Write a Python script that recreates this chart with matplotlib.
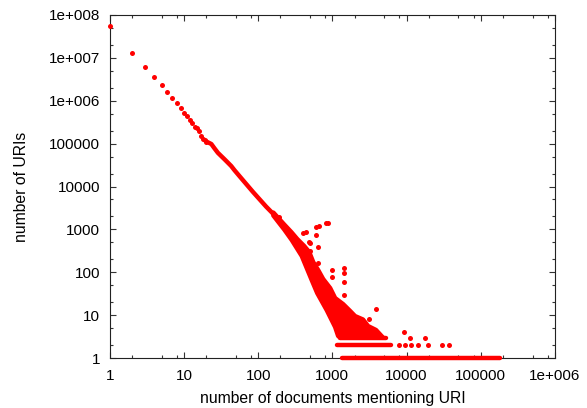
import matplotlib
matplotlib.use('Agg')
import matplotlib.pyplot as plt
import matplotlib.ticker as mticker

RED = '#ff0000'

# --- isolated low-x points (x = number of documents, y = number of URIs)
disc_x = [1, 2, 3, 4, 5, 6, 7, 8, 9, 10, 11, 12, 13, 14, 15, 16, 17, 18, 19, 20]
disc_y = [5.5e7, 1.3e7, 6.0e6, 3.5e6, 2.3e6, 1.6e6, 1.17e6, 8.7e5, 6.6e5, 5.3e5,
          4.4e5, 3.6e5, 3.0e5, 2.45e5, 2.35e5, 2.0e5, 1.5e5, 1.3e5, 1.2e5, 1.12e5]

# --- dense head of the distribution (traced centre of the point band)
line_x = [20, 23.4, 25.9, 28.7, 31.9, 35.3, 39.1, 43.4, 48, 56, 85, 128, 160.5]
line_y = [1.12e5, 9.8e4, 7.7e4, 6.1e4, 5.1e4, 4.3e4, 3.6e4, 3.0e4, 2.4e4, 1.75e4,
          7500, 3400, 2280]

# --- envelope of the densely scattered tail
cloud_x = [160.5, 225, 280, 337, 418, 488, 552, 645, 752, 934, 1090, 1396, 1734,
           2023, 2589, 3024, 3873, 4808, 1272, 1197, 1090, 839, 625, 527, 387,
           284, 225, 160.5]
cloud_y = [2464, 1294, 865, 594, 408, 296, 173, 112, 69.4, 42.8, 25, 18.1, 12.5,
           9.5, 7.9, 5.57, 4.5, 3.0, 3.0, 3.26, 5.28, 13.1, 32.7, 65.8, 239,
           563, 989, 2098]

# --- isolated outliers
out_x = [193, 397, 441, 488, 503, 606, 665, 833, 887, 600, 631, 631, 499,
         1440, 1440, 1440, 1440, 1000, 1000, 3840, 3100, 9200,
         11100, 17600, 7900, 9500, 11300, 14300, 19500, 30000, 37000]
out_y = [1900, 833, 880, 514, 470, 1132, 1227, 1425, 1425, 736, 393, 167, 317,
         125, 94, 60, 30, 112, 79, 14, 8, 4,
         3, 3, 2, 2, 2, 2, 2, 2, 2]

# --- continuous runs of points at small counts
run_y = [1, 2, 3]
run_x0 = [1340, 1170, 1270]
run_x1 = [183000, 6100, 5300]

x_ticks = [1, 10, 100, 1000, 10000, 100000, 1000000]
x_labels = ['1', '10', '100', '1000', '10000', '100000', '1e+006']
y_ticks = [1, 10, 100, 1000, 10000, 100000, 1000000, 10000000, 100000000]
y_labels = ['1', '10', '100', '1000', '10000', '100000', '1e+006', '1e+007', '1e+008']

plt.rcParams['font.family'] = ['Liberation Sans', 'DejaVu Sans']
FS_TICK = 11
FS_LAB = 11.3
MS = 3.6  # marker diameter in points
LW = 3.2  # width of traced dense band

fig = plt.figure(figsize=(5.87, 4.08), dpi=100)
ax = fig.add_axes([109.7 / 587, 1 - 358 / 408, (555 - 109.7) / 587, (358 - 15) / 408])
ax.set_xscale('log')
ax.set_yscale('log')
ax.set_xlim(1, 1e6)
ax.set_ylim(1, 1e8)

ax.plot(disc_x, disc_y, 'o', color=RED, ms=MS, mew=0, zorder=3, clip_on=False)
ax.plot(line_x, line_y, '-', color=RED, lw=LW, solid_capstyle='round',
        solid_joinstyle='round', zorder=3)
poly = ax.fill(cloud_x, cloud_y, facecolor=RED, edgecolor=RED, lw=LW, zorder=3)[0]
poly.set_joinstyle('round')
ax.plot(out_x, out_y, 'o', color=RED, ms=MS, mew=0, zorder=3, clip_on=False)
for yv, a, b in zip(run_y, run_x0, run_x1):
    ax.plot([a, b], [yv, yv], '-', color=RED, lw=LW, solid_capstyle='round',
            zorder=3, clip_on=False)

ax.xaxis.set_major_locator(mticker.FixedLocator(x_ticks))
ax.xaxis.set_major_formatter(mticker.FixedFormatter(x_labels))
ax.yaxis.set_major_locator(mticker.FixedLocator(y_ticks))
ax.yaxis.set_major_formatter(mticker.FixedFormatter(y_labels))
ax.xaxis.set_minor_locator(mticker.LogLocator(base=10, subs=[2, 5, 8], numticks=20))
ax.yaxis.set_minor_locator(mticker.LogLocator(base=10, subs=[2, 5], numticks=20))
ax.xaxis.set_minor_formatter(mticker.NullFormatter())
ax.yaxis.set_minor_formatter(mticker.NullFormatter())

ax.tick_params(which='both', direction='in', top=True, right=True,
               color='#333333', width=0.8)
ax.tick_params(which='major', length=4.5)
ax.tick_params(which='minor', length=2.5)
ax.tick_params(axis='x', which='major', pad=8, labelsize=FS_TICK)
ax.tick_params(axis='y', which='major', pad=7, labelsize=FS_TICK)
for s in ax.spines.values():
    s.set_linewidth(0.8)
    s.set_color('#222222')

ax.set_xlabel('number of documents mentioning URI', fontsize=FS_LAB, labelpad=6)
ax.set_ylabel('number of URIs', fontsize=FS_LAB, labelpad=14)

fig.savefig('out.png', dpi=100)
